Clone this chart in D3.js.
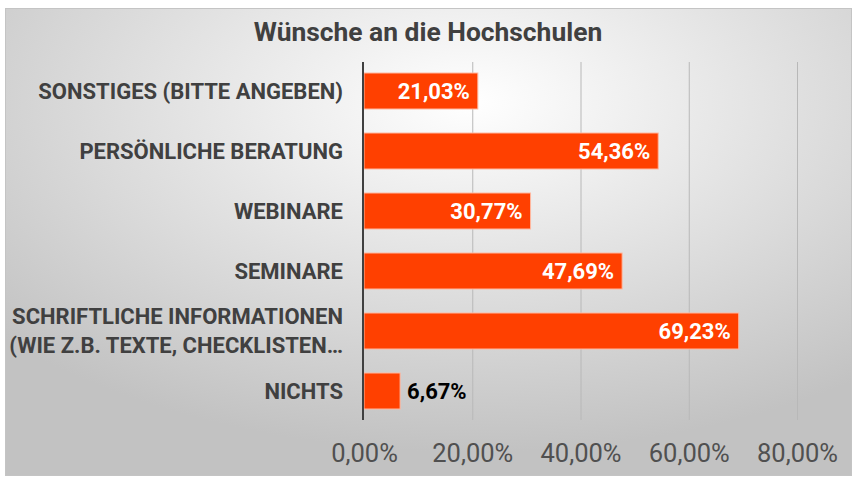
<!DOCTYPE html>
<html><head><meta charset="utf-8">
<script src="https://cdn.jsdelivr.net/npm/d3@7"></script>
<style>body{margin:0;background:#fff}svg{display:block}</style>
</head><body>
<svg id="c" width="858" height="485"></svg>
<script>
const categories = ["SONSTIGES (BITTE ANGEBEN)", "PERSÖNLICHE BERATUNG", "WEBINARE", "SEMINARE", "SCHRIFTLICHE INFORMATIONEN (WIE Z.B. TEXTE, CHECKLISTEN…", "NICHTS"];
const categoryLines = [["SONSTIGES (BITTE ANGEBEN)"], ["PERSÖNLICHE BERATUNG"], ["WEBINARE"], ["SEMINARE"], ["SCHRIFTLICHE INFORMATIONEN", "(WIE Z.B. TEXTE, CHECKLISTEN…"], ["NICHTS"]];
const values = [21.03, 54.36, 30.77, 47.69, 69.23, 6.67];
const ticks = [0, 20, 40, 60, 80];
const title = "Wünsche an die Hochschulen";

const fmt = v => v.toFixed(2).replace(".", ",") + "%";
const svg = d3.select("#c");
const defs = svg.append("defs");
const rg = defs.append("radialGradient").attr("id", "bg")
  .attr("cx", "0.55").attr("cy", "0.2").attr("r", "0.75").attr("fx", "0.55").attr("fy", "0.2");
rg.append("stop").attr("offset", "0").attr("stop-color", "#ffffff");
rg.append("stop").attr("offset", "1").attr("stop-color", "#c2c2c2");

svg.append("rect").attr("x", 5.5).attr("y", 8.5).attr("width", 846).attr("height", 467)
  .attr("fill", "url(#bg)").attr("stroke", "#c4c4c4").attr("stroke-width", 1);

const x = d3.scaleLinear().domain([0, 80]).range([364, 797]);
const y = d3.scaleBand().domain(categories).range([61, 421]).paddingInner(0.4).paddingOuter(0.2);

// gridlines
svg.append("g").selectAll("line").data(ticks.slice(1)).join("line")
  .attr("x1", d => x(d) + 0.5).attr("x2", d => x(d) + 0.5)
  .attr("y1", 62).attr("y2", 420).attr("stroke", "#b8b8b8").attr("stroke-width", 1);

// x tick labels
const xAxis = d3.axisBottom(x).tickValues(ticks).tickFormat(d => d.toFixed(2).replace(".", ",") + "%").tickSize(0).tickPadding(0);
const gx = svg.append("g").attr("transform", "translate(0,444)").call(xAxis);
gx.select(".domain").remove();
gx.selectAll("text").attr("font-family", "Roboto").attr("font-size", 25.5).attr("fill", "#505050").attr("dy", "0.7em");

// bars
svg.append("g").selectAll("rect").data(values).join("rect")
  .attr("x", x(0)).attr("y", (d, i) => y(categories[i]))
  .attr("width", d => x(d) - x(0)).attr("height", y.bandwidth())
  .attr("fill", "#ff4000").attr("stroke", "#ffb8a0").attr("stroke-width", 1);

// axis line
svg.append("line").attr("x1", 363).attr("x2", 363).attr("y1", 62).attr("y2", 420)
  .attr("stroke", "#404040").attr("stroke-width", 2);

// value labels
svg.append("g").selectAll("text").data(values).join("text")
  .attr("x", d => x(d) - x(0) > 60 ? x(d) - 8 : x(d) + 7)
  .attr("y", (d, i) => y(categories[i]) + y.bandwidth() / 2)
  .attr("dy", "0.36em")
  .attr("text-anchor", d => x(d) - x(0) > 60 ? "end" : "start")
  .attr("font-family", "Roboto").attr("font-weight", "bold").attr("font-size", 22)
  .attr("fill", d => x(d) - x(0) > 60 ? "#ffffff" : "#000000")
  .text(d => fmt(d));

// category labels
const cl = svg.append("g").selectAll("text").data(categoryLines).join("text")
  .attr("text-anchor", "end").attr("font-family", "Roboto").attr("font-weight", "bold")
  .attr("font-size", 22).attr("fill", "#404040")
  .attr("transform", (d, i) => `translate(343,${y(categories[i]) + y.bandwidth() / 2})`);
cl.each(function (lines) {
  const t = d3.select(this);
  const n = lines.length;
  lines.forEach((l, k) => {
    t.append("tspan").attr("x", 0).attr("y", (k - (n - 1) / 2) * 29).attr("dy", "0.36em").text(l);
  });
});

// title
svg.append("text").attr("x", 428).attr("y", 41).attr("text-anchor", "middle")
  .attr("font-family", "Roboto").attr("font-weight", "bold").attr("font-size", 26.4)
  .attr("fill", "#404040").text(title);
</script>
</body></html>
